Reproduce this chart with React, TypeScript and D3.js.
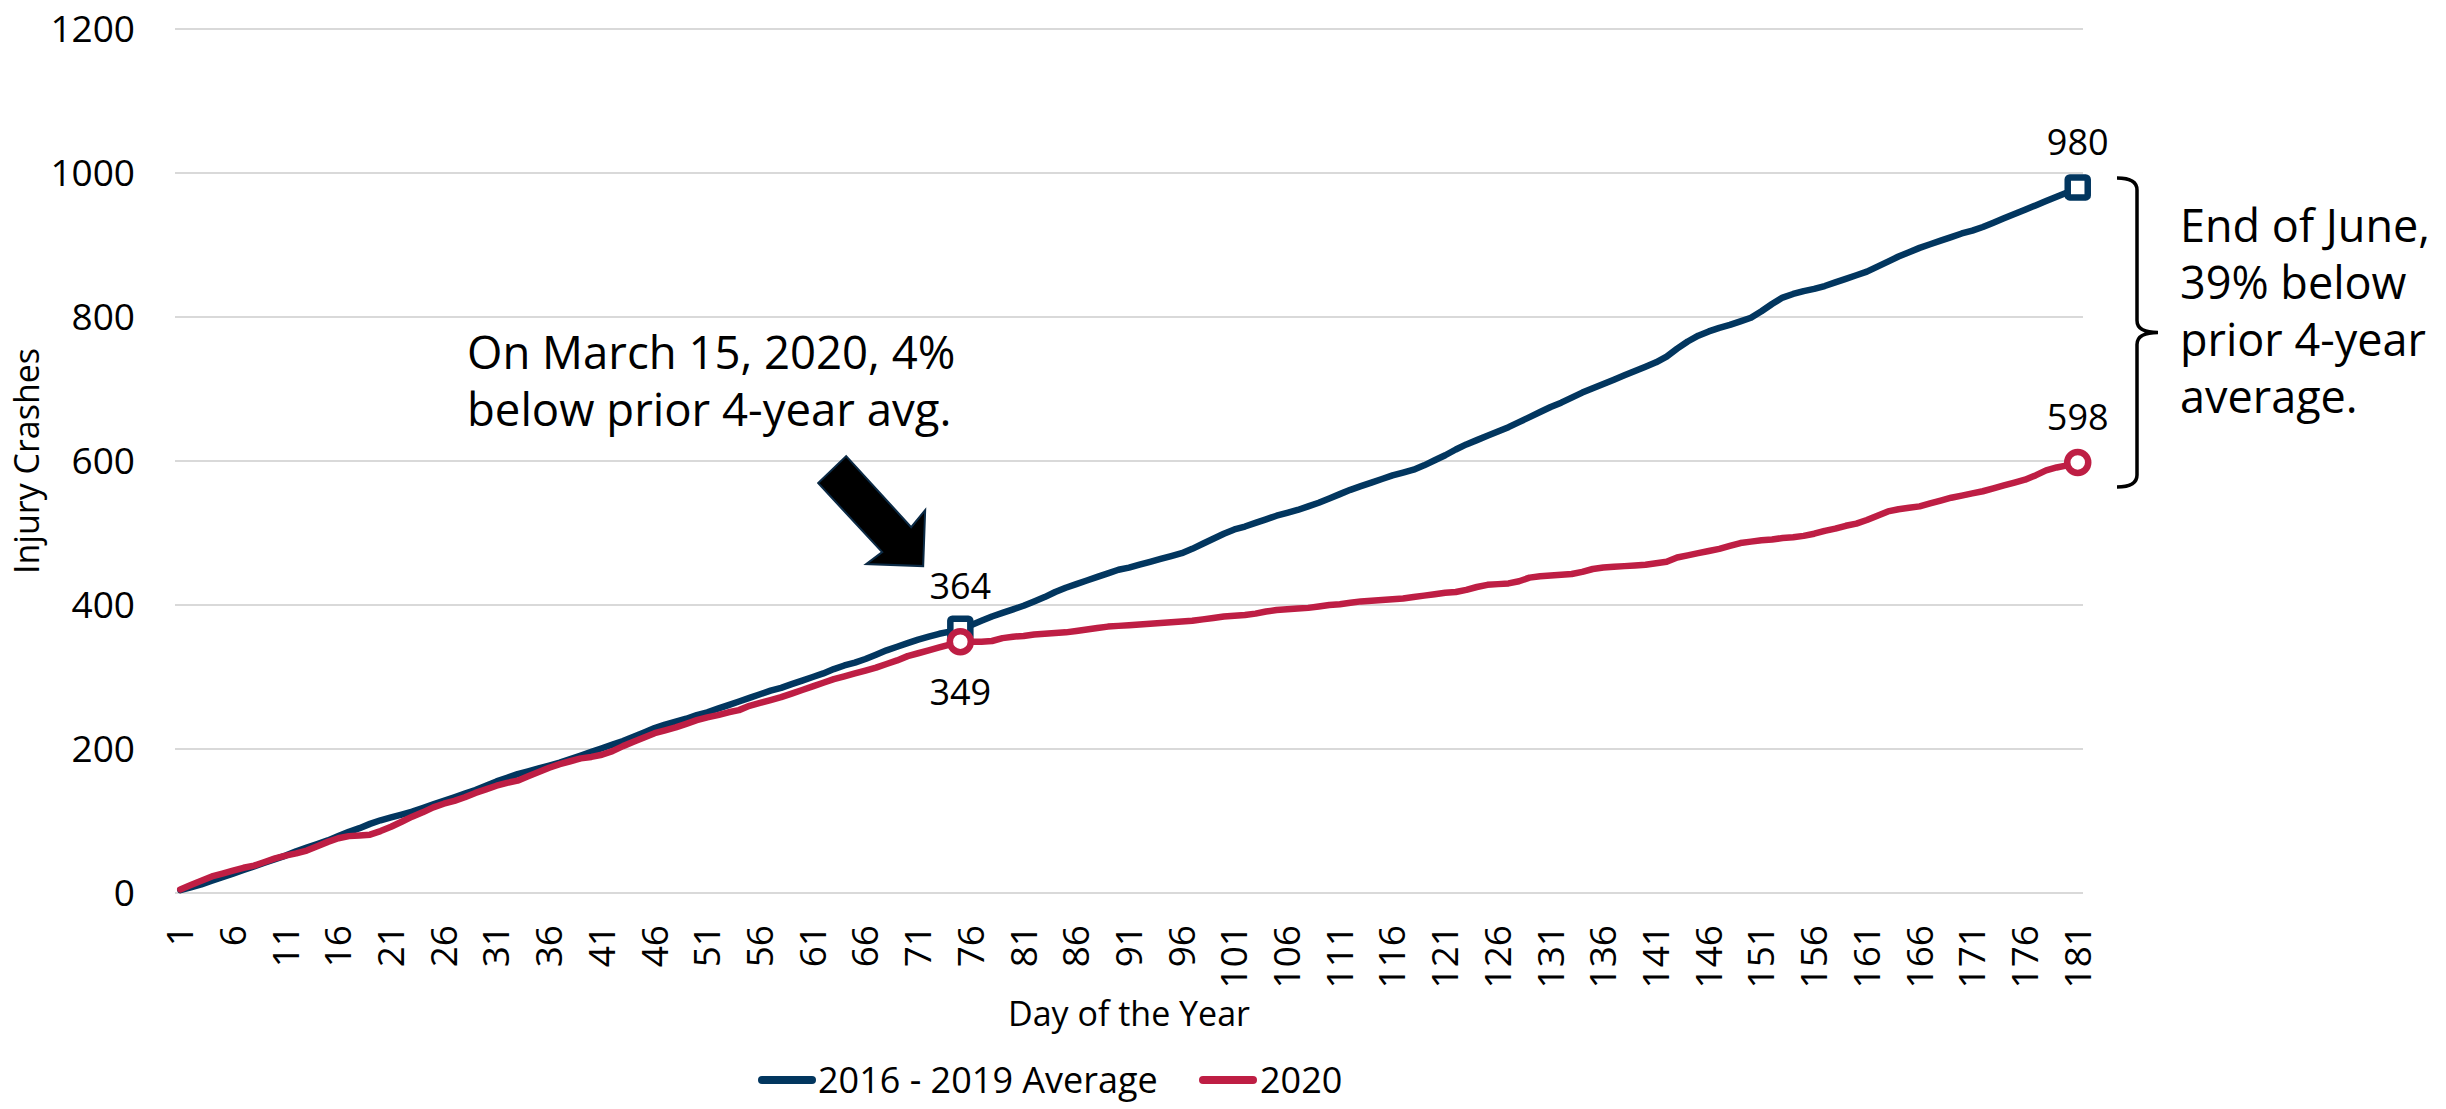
import React, { useEffect } from "react";
import * as d3 from "d3";

// cumulative injury crashes, day 1..181
const avg2016to2019: number[] = [
  4, 8, 12, 17, 22, 27, 32, 37, 42, 47,
  52, 58, 63, 68, 73, 79, 85, 90, 96, 101,
  105, 109, 113, 118, 123, 128, 133, 138, 143, 149,
  155, 160, 165, 169, 173, 177, 181, 186, 191, 196,
  201, 206, 211, 217, 223, 229, 234, 238, 242, 247,
  251, 256, 261, 266, 271, 276, 281, 285, 290, 295,
  300, 305, 311, 316, 320, 325, 331, 337, 342, 347,
  352, 356, 360, 363, 367, 372, 378, 384, 389, 394,
  399, 405, 411, 418, 424, 429, 434, 439, 444, 449,
  452, 456, 460, 464, 468, 472, 478, 485, 492, 499,
  505, 509, 514, 519, 524, 528, 532, 537, 542, 548,
  554, 560, 565, 570, 575, 580, 584, 588, 594, 601,
  608, 616, 623, 629, 635, 641, 647, 654, 661, 668,
  675, 681, 688, 695, 701, 707, 713, 719, 725, 731,
  737, 745, 756, 766, 774, 780, 785, 789, 794, 799,
  808, 818, 827, 832, 836, 839, 843, 848, 853, 858,
  863, 870, 877, 884, 890, 896, 901, 906, 911, 916,
  920, 925, 931, 937, 943, 949, 955, 961, 967, 973,
  980,
];

const year2020: number[] = [
  5, 11, 17, 23, 27, 31, 35, 38, 43, 48,
  52, 55, 59, 65, 71, 76, 79, 80, 81, 86,
  92, 99, 106, 112, 119, 124, 128, 133, 139, 144,
  149, 153, 156, 162, 168, 174, 179, 183, 187, 189,
  192, 197, 204, 210, 216, 222, 226, 230, 235, 240,
  244, 247, 251, 254, 260, 264, 268, 272, 277, 282,
  287, 292, 297, 301, 305, 309, 313, 318, 323, 329,
  333, 337, 341, 345, 349, 349, 349, 350, 354, 356,
  357, 359, 360, 361, 362, 364, 366, 368, 370, 371,
  372, 373, 374, 375, 376, 377, 378, 380, 382, 384,
  385, 386, 388, 391, 393, 394, 395, 396, 398, 400,
  401, 403, 405, 406, 407, 408, 409, 411, 413, 415,
  417, 418, 421, 425, 428, 429, 430, 433, 438, 440,
  441, 442, 443, 446, 450, 452, 453, 454, 455, 456,
  458, 460, 466, 469, 472, 475, 478, 482, 486, 488,
  490, 491, 493, 494, 496, 499, 503, 506, 510, 513,
  518, 524, 530, 533, 535, 537, 541, 545, 549, 552,
  555, 558, 562, 566, 570, 574, 580, 587, 591, 594,
  598,
];

const days: number[] = avg2016to2019.map((_, i) => i + 1);
const yTicks: number[] = [0, 200, 400, 600, 800, 1000, 1200];
const xTickDays: number[] = days.filter((d) => (d - 1) % 5 === 0);

const seriesNames = ["2016 - 2019 Average", "2020"];
const seriesColors = ["#02365F", "#BE1E44"];

// marked points: day, series index, label text, label offset
const callouts = [
  { day: 75, series: 0, text: "364", dy: -30 },
  { day: 75, series: 1, text: "349", dy: 63 },
  { day: 181, series: 0, text: "980", dy: -32 },
  { day: 181, series: 1, text: "598", dy: -32 },
];

const noteLeft = ["On March 15, 2020, 4%", "below prior 4-year avg."];
const noteRight = ["End of June,", "39% below", "prior 4-year", "average."];

const W = 2446;
const H = 1109;
const plot = { left: 175, right: 2083, top: 29, bottom: 893 };
const FONT = "'Segoe UI', 'Open Sans', 'Noto Sans', sans-serif";

export default function App() {
  useEffect(() => {
    document.body.style.margin = "0";
  }, []);

  const x = d3
    .scalePoint<number>()
    .domain(days)
    .range([plot.left, plot.right])
    .padding(0.5);
  const y = d3.scaleLinear().domain([0, 1200]).range([plot.bottom, plot.top]);

  const line = d3
    .line<number>()
    .x((_, i) => x(days[i]) ?? 0)
    .y((v) => y(v));

  const series = [avg2016to2019, year2020];

  // arrow tip anchored in data space
  const tipX = x(71)! + 5;
  const tipY = y(454);
  const arrow = [
    [-77, -110],
    [-12, -39],
    [2, -56],
    [0, 0],
    [-57, -2],
    [-41, -14],
    [-105, -83],
  ]
    .map(([dx, dy]) => `${tipX + dx},${tipY + dy}`)
    .join(" ");

  const bTop = y(993);
  const bBot = y(564);
  const bMid = (bTop + bBot) / 2;
  const bx = plot.right + 54;
  const brace = `M${bx - 20},${bTop} Q${bx},${bTop} ${bx},${bTop + 12} L${bx},${bMid - 12} Q${bx},${bMid} ${bx + 21},${bMid} Q${bx},${bMid} ${bx},${bMid + 12} L${bx},${bBot - 12} Q${bx},${bBot} ${bx - 20},${bBot}`;

  const legendItems = [
    { x: 762, tx: 818 },
    { x: 1203, tx: 1260 },
  ];

  return (
    <svg width={W} height={H} style={{ display: "block", background: "#fff" }} fontFamily={FONT}>
      {/* gridlines */}
      {yTicks.map((t) => (
        <g key={t}>
          <line x1={plot.left} x2={plot.right} y1={y(t)} y2={y(t)} stroke="#d9d9d9" strokeWidth={2} />
          <text x={135} y={y(t)} dy="0.35em" textAnchor="end" fontSize={37} fill="#000">
            {t}
          </text>
        </g>
      ))}

      {/* x tick labels */}
      {xTickDays.map((d) => (
        <text
          key={d}
          transform={`translate(${x(d)},925) rotate(-90)`}
          textAnchor="end"
          dy="0.35em"
          fontSize={37}
          fill="#000"
        >
          {d}
        </text>
      ))}

      {/* axis titles */}
      <text x={(plot.left + plot.right) / 2} y={1026} textAnchor="middle" fontSize={34}>
        Day of the Year
      </text>
      <text
        transform={`translate(27,${(plot.top + plot.bottom) / 2}) rotate(-90)`}
        textAnchor="middle"
        dy="0.35em"
        fontSize={34}
      >
        Injury Crashes
      </text>

      {/* lines */}
      {series.map((s, i) => (
        <path
          key={i}
          d={line(s) ?? ""}
          fill="none"
          stroke={seriesColors[i]}
          strokeWidth={6.5}
          strokeLinejoin="round"
          strokeLinecap="round"
        />
      ))}

      {/* markers and labels */}
      {callouts.map((c, i) => {
        const cx = x(c.day)!;
        const cy = y(series[c.series][c.day - 1]);
        return (
          <g key={i}>
            {c.series === 0 ? (
              <rect
                x={cx - 10}
                y={cy - 10}
                width={20}
                height={20}
                rx={2}
                fill="#fff"
                stroke={seriesColors[0]}
                strokeWidth={6.5}
              />
            ) : (
              <circle cx={cx} cy={cy} r={10.5} fill="#fff" stroke={seriesColors[1]} strokeWidth={6.5} />
            )}
            <text x={cx} y={cy + c.dy} textAnchor="middle" fontSize={36}>
              {c.text}
            </text>
          </g>
        );
      })}

      {/* left annotation */}
      <text x={467} y={369} fontSize={45.5}>
        {noteLeft.map((t, i) => (
          <tspan key={t} x={467} dy={i === 0 ? 0 : 57}>
            {t}
          </tspan>
        ))}
      </text>
      <polygon points={arrow} fill="#000" stroke="#0b2a45" strokeWidth={2} strokeLinejoin="miter" />

      {/* right annotation */}
      <path d={brace} fill="none" stroke="#000" strokeWidth={3.5} />
      <text x={2180} y={242} fontSize={45}>
        {noteRight.map((t, i) => (
          <tspan key={t} x={2180} dy={i === 0 ? 0 : 57}>
            {t}
          </tspan>
        ))}
      </text>

      {/* legend */}
      {legendItems.map((l, i) => (
        <g key={i}>
          <line
            x1={l.x}
            x2={l.x + 50}
            y1={1080}
            y2={1080}
            stroke={seriesColors[i]}
            strokeWidth={8}
            strokeLinecap="round"
          />
          <text x={l.tx} y={1080} dy="0.35em" fontSize={36}>
            {seriesNames[i]}
          </text>
        </g>
      ))}
    </svg>
  );
}
